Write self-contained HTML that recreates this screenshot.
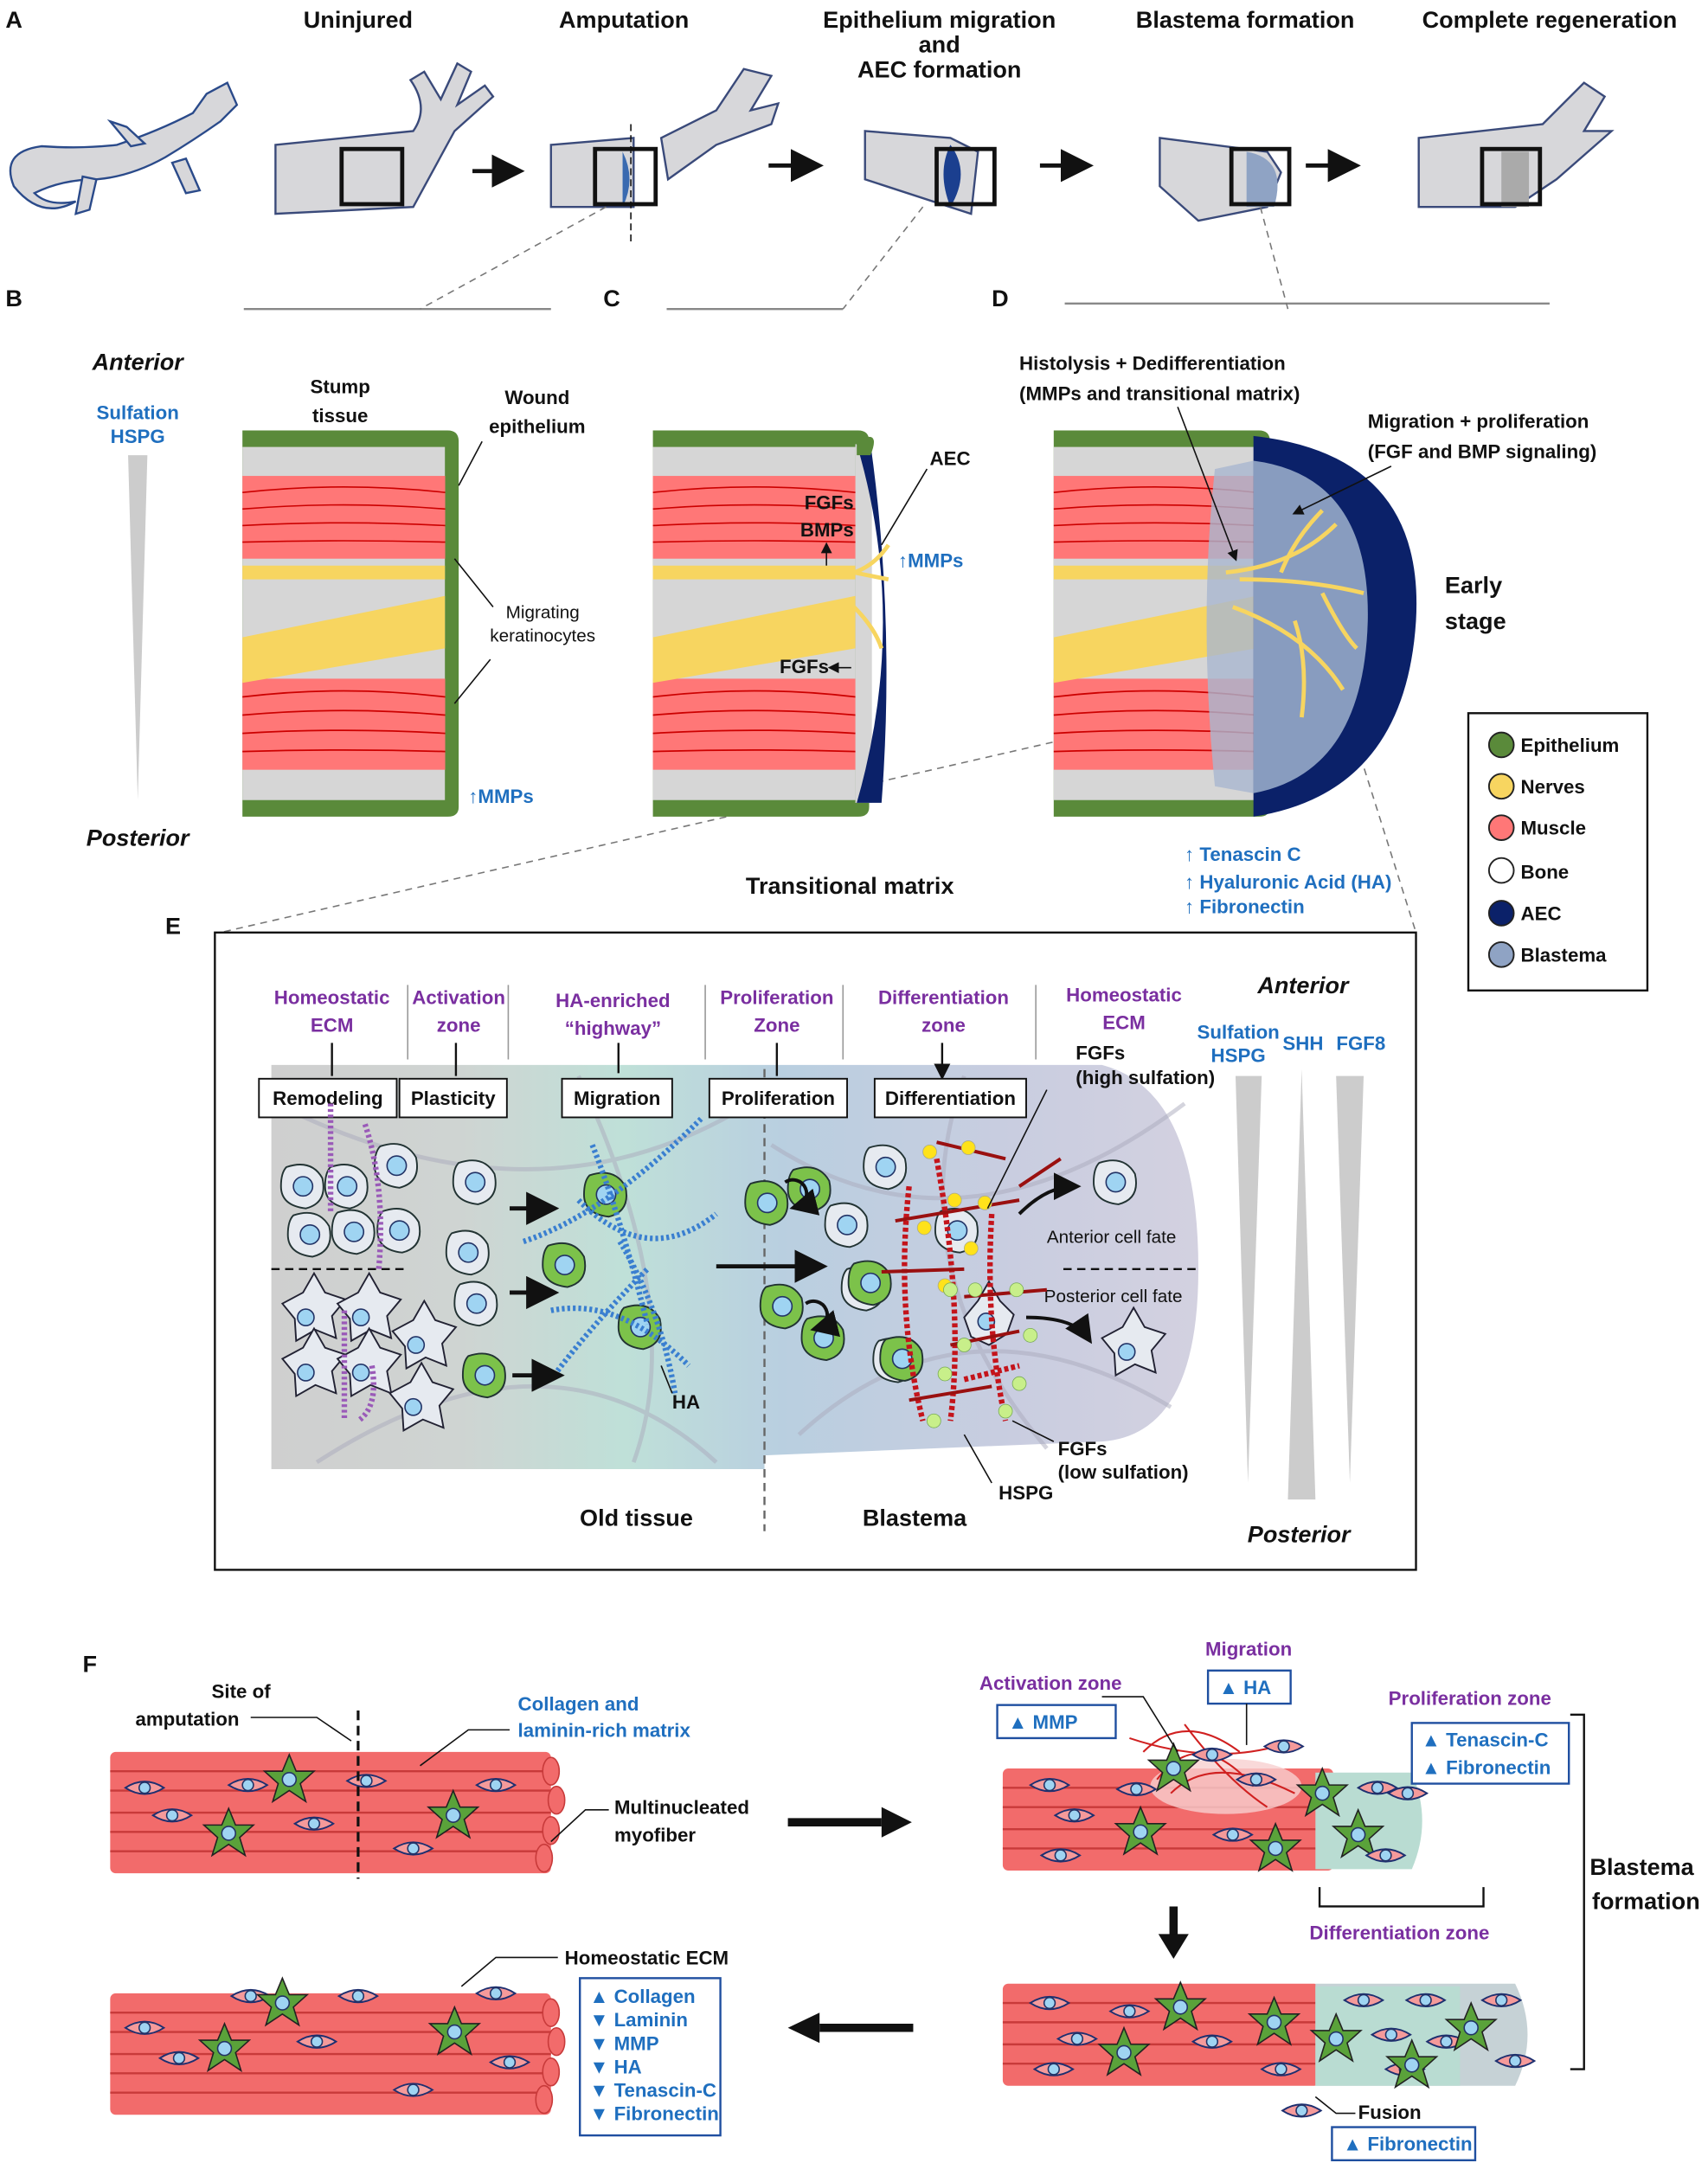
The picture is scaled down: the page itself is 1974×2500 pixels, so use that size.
<!DOCTYPE html>
<html><head><meta charset="utf-8"><style>
html,body{margin:0;padding:0;background:#fff}
svg{display:block}
text{font-family:"Liberation Sans",sans-serif}
.t{font-size:17px;font-weight:bold;fill:#111}
.b{font-size:14px;font-weight:bold;fill:#111}
.bl{font-size:14px;font-weight:bold;fill:#1f6fbf}
.pu{font-size:14px;font-weight:bold;fill:#7a2fa0}
.s{font-size:13px;fill:#111}
</style></head><body>
<svg width="1974" height="2500" viewBox="0 0 1240 1568" preserveAspectRatio="none" xmlns="http://www.w3.org/2000/svg">
<defs>
<marker id="ah" markerWidth="8" markerHeight="8" refX="6" refY="4" orient="auto"><path d="M0,0L8,4L0,8z" fill="#111"/></marker>
<linearGradient id="eg" x1="0" x2="1"><stop offset="0" stop-color="#cfcfcf"/><stop offset="0.2" stop-color="#cfd4d2"/><stop offset="0.38" stop-color="#bfe0d8"/><stop offset="0.55" stop-color="#b9cfe0"/><stop offset="0.8" stop-color="#c9cde0"/><stop offset="1" stop-color="#d3d1e0"/></linearGradient>
<g id="mus"><rect x="0" y="0" width="160" height="60" fill="#f77"/><path d="M0,12Q80,4 160,12M0,24Q80,18 160,24M0,36Q80,32 160,36M0,48Q80,46 160,48" stroke="#c00" fill="none" stroke-width="1"/></g>
<g id="cell"><path d="M-12,-14Q6,-20 14,-6Q18,12 2,16Q-16,14 -16,0Q-16,-10 -12,-14z" fill="#e6eaf0" stroke="#233" stroke-width="1.2"/><circle r="7" fill="#9fd4f2" stroke="#236" stroke-width="1"/></g>
<g id="gcell"><path d="M-12,-14Q6,-20 14,-6Q18,12 2,16Q-16,14 -16,0Q-16,-10 -12,-14z" fill="#7cc24a" stroke="#233" stroke-width="1.2"/><circle r="7" fill="#9fd4f2" stroke="#236" stroke-width="1"/></g>
<g id="star"><path d="M0,-18L5,-6L18,-6L8,3L12,16L0,8L-12,16L-8,3L-18,-6L-5,-6z" fill="#5aa23a" stroke="#222" stroke-width="1"/><circle r="5" fill="#9fd4f2" stroke="#236"/></g>
<g id="eye"><path d="M-14,0Q0,-9 14,0Q0,9 -14,0z" fill="#f59a9a" stroke="#1d2f70" stroke-width="1.2"/><circle r="4" fill="#9fd4f2" stroke="#236"/></g>
</defs>

<!-- Panel A -->
<text x="4" y="20" class="t">A</text>
<text x="260" y="20" class="t" text-anchor="middle">Uninjured</text>
<text x="453" y="20" class="t" text-anchor="middle">Amputation</text>
<text x="682" y="20" class="t" text-anchor="middle">Epithelium migration</text>
<text x="682" y="38" class="t" text-anchor="middle">and</text>
<text x="682" y="56" class="t" text-anchor="middle">AEC formation</text>
<text x="904" y="20" class="t" text-anchor="middle">Blastema formation</text>
<text x="1125" y="20" class="t" text-anchor="middle">Complete regeneration</text>
<g fill="#d7d7da" stroke="#2a4a8a" stroke-width="1.5">
<path d="M10,135Q0,110 30,106Q60,108 85,105Q115,95 140,82L150,68L165,60L172,76L160,88Q140,102 120,114Q95,128 70,130Q45,130 25,140Q35,150 55,146Q30,160 10,135z"/>
<path d="M95,106L80,88L92,92L105,104z"/><path d="M125,118L135,140L145,138L135,115z"/><path d="M60,128L55,155L65,152L70,130z"/>
</g>
<g fill="#d7d7da" stroke="#3a4a7a" stroke-width="1.5">
<path d="M200,105L300,95Q312,78 298,58L308,52L320,72L332,46L342,52L332,76L352,62L358,70L330,95L300,150L200,155z"/>
<path d="M400,105L460,100L460,150L400,150z"/><path d="M480,100L520,80L540,50L560,55L545,80L565,75L560,90L520,105L485,130z"/>
<path d="M628,95L690,100L710,110L705,155L628,130z"/>
<path d="M842,100L920,110L930,125L920,150L870,160L842,135z"/>
<path d="M1030,100L1120,90L1150,60L1165,70L1150,95L1170,95L1130,130L1100,150L1030,150z"/>
</g>
<path d="M452,110Q462,130 452,150" fill="#3a6ab0"/><path d="M690,105Q705,125 690,150Q680,125 690,105z" fill="#1b3f8f"/>
<path d="M905,110Q935,115 925,150L905,150z" fill="#8fa3c4"/><path d="M1090,110L1110,110L1110,150L1090,150z" fill="#aaa"/>
<g fill="none" stroke="#111" stroke-width="3"><rect x="248" y="108" width="44" height="40"/><rect x="432" y="108" width="44" height="40"/><rect x="680" y="108" width="42" height="40"/><rect x="894" y="108" width="42" height="40"/><rect x="1076" y="108" width="42" height="40"/></g>
<path d="M458,90V175" stroke="#111" stroke-dasharray="5,3"/>
<g stroke="#111" stroke-width="3" marker-end="url(#ah)"><path d="M343,124H375"/><path d="M558,120H592"/><path d="M755,120H788"/><path d="M948,120H982"/></g>
<g stroke="#888" stroke-width="1.5"><path d="M177,224H400M484,224H612M773,220H1125"/></g>
<g stroke="#777" stroke-dasharray="5,4" fill="none"><path d="M440,150L305,224M670,150L612,224M915,150L935,224M887,510L160,676M985,540L1028,676"/></g>

<!-- Panel B -->
<text x="4" y="222" class="t">B</text><text x="438" y="222" class="t">C</text><text x="720" y="222" class="t">D</text>
<text x="100" y="268" class="t" font-style="italic" text-anchor="middle">Anterior</text>
<text x="100" y="304" class="bl" text-anchor="middle">Sulfation</text><text x="100" y="321" class="bl" text-anchor="middle">HSPG</text>
<path d="M93,330H107L100,580z" fill="#ccc"/>
<text x="100" y="613" class="t" font-style="italic" text-anchor="middle">Posterior</text>
<text x="247" y="285" class="b" font-size="15" text-anchor="middle">Stump</text><text x="247" y="306" class="b" font-size="15" text-anchor="middle">tissue</text>
<text x="390" y="293" class="b" font-size="15" text-anchor="middle">Wound</text><text x="390" y="314" class="b" font-size="15" text-anchor="middle">epithelium</text>
<text x="394" y="448" class="s" font-size="14" text-anchor="middle">Migrating</text><text x="394" y="465" class="s" font-size="14" text-anchor="middle">keratinocytes</text>
<text x="340" y="582" class="bl">↑MMPs</text>

<g id="stump">
<path d="M176,312H325Q333,312 333,320V585Q333,592 325,592H176z" fill="#5a8a3a"/>
<rect x="176" y="324" width="147" height="256" fill="#d6d6d6"/>
<use href="#mus" transform="translate(176,345) scale(0.92,1)"/>
<use href="#mus" transform="translate(176,492) scale(0.92,1.1)"/>
<path d="M176,410H323V420H176z" fill="#f7d560"/>
<path d="M176,462L323,432V470L176,495z" fill="#f7d560"/>
</g>
<path d="M333,352L350,320M330,405L358,440M330,510L356,478" stroke="#111"/>

<g transform="translate(298,0)"><use href="#stump"/></g>
<rect x="621" y="322" width="12" height="260" fill="#d6d6d6"/>
<path d="M622,322Q660,450 622,582H640Q650,450 632,322z" fill="#0b2169"/>
<path d="M622,320Q640,310 632,330L622,330z" fill="#5a8a3a"/>
<g stroke="#f7d560" stroke-width="3" fill="none"><path d="M620,415Q635,410 645,395M620,415L645,420M620,440Q635,455 640,470"/></g>
<text x="584" y="369" class="b">FGFs</text><text x="581" y="389" class="b">BMPs</text>
<path d="M600,410V395" stroke="#111" marker-end="url(#ah)"/>
<text x="566" y="488" class="b">FGFs</text><path d="M618,484H603" stroke="#111" marker-end="url(#ah)"/>
<text x="675" y="337" class="b" font-size="15">AEC</text><path d="M673,340L640,395" stroke="#111"/>
<text x="652" y="411" class="bl">↑MMPs</text>

<g transform="translate(589,0)"><use href="#stump"/></g>
<path d="M910,316Q1035,330 1028,450Q1020,575 910,592z" fill="#0b2169"/>
<path d="M910,334Q995,345 993,450Q990,560 910,575z" fill="#8fa3c4" opacity="0.95"/>
<path d="M882,340Q870,450 882,570L910,575V334z" fill="#a9b7cf" opacity="0.8"/>
<g stroke="#f7d560" stroke-width="3" fill="none"><path d="M890,415Q940,410 970,380M900,420Q950,420 990,430M895,440Q950,460 975,500M930,415Q940,390 960,370M940,450Q950,480 945,520M960,430Q975,460 985,470"/></g>
<text x="740" y="268" class="b" font-size="15">Histolysis + Dedifferentiation</text>
<text x="740" y="290" class="b" font-size="15">(MMPs and transitional matrix)</text>
<path d="M855,295L897,405" stroke="#111" marker-end="url(#ah)"/>
<text x="993" y="310" class="b" font-size="15">Migration + proliferation</text>
<text x="993" y="332" class="b" font-size="15">(FGF and BMP signaling)</text>
<path d="M1010,338L940,372" stroke="#111" marker-end="url(#ah)"/>
<text x="1049" y="430" class="t">Early</text><text x="1049" y="456" class="t">stage</text>
<text x="860" y="624" class="bl">↑ Tenascin C</text>
<text x="860" y="644" class="bl">↑ Hyaluronic Acid (HA)</text>
<text x="860" y="662" class="bl">↑ Fibronectin</text>
<text x="617" y="648" class="t" font-size="20" text-anchor="middle">Transitional matrix</text>

<!-- Legend -->
<rect x="1066" y="517" width="130" height="201" fill="#fff" stroke="#111" stroke-width="1.5"/>
<g stroke="#222" stroke-width="1.2">
<circle cx="1090" cy="540" r="9" fill="#5a8a3a"/><circle cx="1090" cy="570" r="9" fill="#f7d560"/><circle cx="1090" cy="600" r="9" fill="#f77"/><circle cx="1090" cy="631" r="9" fill="#fff"/><circle cx="1090" cy="662" r="9" fill="#0b2169"/><circle cx="1090" cy="692" r="9" fill="#8fa3c4"/></g>
<g class="b" font-size="15"><text x="1104" y="545" class="b">Epithelium</text><text x="1104" y="575" class="b">Nerves</text><text x="1104" y="605" class="b">Muscle</text><text x="1104" y="637" class="b">Bone</text><text x="1104" y="667" class="b">AEC</text><text x="1104" y="697" class="b">Blastema</text></g>

<!-- Panel E -->
<text x="120" y="677" class="t">E</text>
<rect x="156" y="676" width="872" height="462" fill="#fff" stroke="#111" stroke-width="1.5"/>
<path d="M197,772H800Q870,790 870,920Q870,1040 800,1045L555,1055V1065H197z" fill="url(#eg)"/>
<g stroke="#aab" stroke-width="3" fill="none" opacity="0.5"><path d="M200,800Q400,900 560,790M230,1060Q400,950 520,1060M560,830Q700,920 860,800M580,1040Q700,930 850,1020M420,780Q500,950 460,1060M700,780Q650,920 760,1050"/></g>
<path d="M555,775V1110" stroke="#666" stroke-dasharray="6,4" stroke-width="1.5"/>
<path d="M197,920H295M772,920H868" stroke="#111" stroke-dasharray="6,4" stroke-width="1.5"/>
<g class="pu">
<text x="241" y="728" class="pu" text-anchor="middle">Homeostatic</text><text x="241" y="748" class="pu" text-anchor="middle">ECM</text>
<text x="333" y="728" class="pu" text-anchor="middle">Activation</text><text x="333" y="748" class="pu" text-anchor="middle">zone</text>
<text x="445" y="730" class="pu" text-anchor="middle">HA-enriched</text><text x="445" y="750" class="pu" text-anchor="middle">“highway”</text>
<text x="564" y="728" class="pu" text-anchor="middle">Proliferation</text><text x="564" y="748" class="pu" text-anchor="middle">Zone</text>
<text x="685" y="728" class="pu" text-anchor="middle">Differentiation</text><text x="685" y="748" class="pu" text-anchor="middle">zone</text>
<text x="816" y="726" class="pu" text-anchor="middle">Homeostatic</text><text x="816" y="746" class="pu" text-anchor="middle">ECM</text>
</g>
<g stroke="#999"><path d="M296,714V768M369,714V768M512,714V768M612,714V768M752,714V768"/></g>
<g stroke="#111" stroke-width="1.5" marker-end="url(#ah)"><path d="M241,756V780M331,756V780M449,756V778M564,756V780M684,756V780"/></g>
<g fill="#fff" stroke="#111" stroke-width="1.2"><rect x="188" y="782" width="100" height="28"/><rect x="290" y="782" width="78" height="28"/><rect x="408" y="782" width="80" height="28"/><rect x="515" y="782" width="100" height="28"/><rect x="635" y="782" width="110" height="28"/></g>
<g class="b" font-size="13" text-anchor="middle"><text x="238" y="801" class="b" font-size="13">Remodeling</text><text x="329" y="801" class="b" font-size="13">Plasticity</text><text x="448" y="801" class="b" font-size="13">Migration</text><text x="565" y="801" class="b" font-size="13">Proliferation</text><text x="690" y="801" class="b" font-size="13">Differentiation</text></g>
<text x="781" y="768" class="b" font-size="13">FGFs</text><text x="781" y="786" class="b" font-size="13">(high sulfation)</text>
<text x="946" y="720" class="t" font-style="italic" text-anchor="middle">Anterior</text>
<text x="899" y="753" class="bl" text-anchor="middle">Sulfation</text><text x="899" y="770" class="bl" text-anchor="middle">HSPG</text>
<text x="946" y="761" class="bl" text-anchor="middle">SHH</text><text x="988" y="761" class="bl" text-anchor="middle">FGF8</text>
<g fill="#ccc"><path d="M897,780H916L906,1075z"/><path d="M945,775L955,1087H935z"/><path d="M970,780H990L980,1075z"/></g>
<text x="943" y="1118" class="t" font-style="italic" text-anchor="middle">Posterior</text>
<text x="462" y="1106" class="t" text-anchor="middle">Old tissue</text><text x="664" y="1106" class="t" text-anchor="middle">Blastema</text>
<text x="760" y="901" class="s">Anterior cell fate</text><text x="758" y="944" class="s">Posterior cell fate</text>
<text x="488" y="1021" class="b" font-size="12">HA</text><text x="725" y="1087" class="b" font-size="12">HSPG</text>
<text x="768" y="1055" class="b" font-size="13">FGFs</text><text x="768" y="1072" class="b" font-size="13">(low sulfation)</text>
<g><use href="#cell" x="220" y="860"/><use href="#cell" x="252" y="860"/><use href="#cell" x="288" y="845"/><use href="#cell" x="225" y="895"/><use href="#cell" x="257" y="893"/><use href="#cell" x="290" y="892"/>
<use href="#cell" x="345" y="857"/><use href="#cell" x="340" y="908"/><use href="#cell" x="346" y="945"/>
<use href="#cell" x="615" y="888"/><use href="#cell" x="643" y="846"/><use href="#cell" x="627" y="934"/><use href="#cell" x="650" y="986"/><use href="#cell" x="695" y="892"/><use href="#cell" x="810" y="857"/></g>
<g fill="#e6eaf0" stroke="#223" stroke-width="1.2"><path d="M205,945l15,-8 8,-14 8,14 15,5 -10,12 3,16 -15,-6 -14,8 -1,-16z"/><path d="M245,945l15,-8 8,-14 8,14 15,5 -10,12 3,16 -15,-6 -14,8 -1,-16z"/><path d="M205,985l15,-8 8,-14 8,14 15,5 -10,12 3,16 -15,-6 -14,8 -1,-16z"/><path d="M245,985l15,-8 8,-14 8,14 15,5 -10,12 3,16 -15,-6 -14,8 -1,-16z"/><path d="M285,965l15,-8 8,-14 8,14 15,5 -10,12 3,16 -15,-6 -14,8 -1,-16z"/><path d="M283,1010l15,-8 8,-14 8,14 15,5 -10,12 3,16 -15,-6 -14,8 -1,-16z"/><path d="M800,970l15,-8 8,-14 8,14 15,5 -10,12 3,16 -15,-6 -14,8 -1,-16z"/><path d="M700,955l10,-12 8,-14 8,14 10,10 -5,14 -13,8 -13,-6z"/></g>
<g fill="#9fd4f2" stroke="#236"><circle cx="222" cy="955" r="6"/><circle cx="262" cy="955" r="6"/><circle cx="222" cy="995" r="6"/><circle cx="262" cy="995" r="6"/><circle cx="302" cy="975" r="6"/><circle cx="300" cy="1020" r="6"/><circle cx="818" cy="980" r="6"/><circle cx="716" cy="958" r="6"/></g>
<g><use href="#gcell" x="440" y="866"/><use href="#gcell" x="410" y="917"/><use href="#gcell" x="465" y="962"/><use href="#gcell" x="352" y="997"/><use href="#gcell" x="557" y="872"/><use href="#gcell" x="588" y="862"/><use href="#gcell" x="568" y="947"/><use href="#gcell" x="598" y="970"/><use href="#gcell" x="655" y="985"/><use href="#gcell" x="632" y="930"/></g>
<g stroke="#3a7fd0" stroke-width="4" stroke-dasharray="2,2" fill="none"><path d="M380,900Q440,880 510,810M400,950Q450,940 500,990M420,870Q470,920 520,880M400,1000Q430,960 470,920M450,900Q480,950 490,1010M430,830Q450,880 470,960"/></g>
<g stroke="#9a5ab8" stroke-width="4" stroke-dasharray="2,2" fill="none"><path d="M240,800V880M265,815Q280,860 275,920M250,950V1030M270,990Q275,1020 260,1030"/></g>
<g stroke="#c4141b" stroke-width="4" stroke-dasharray="3,2" fill="none"><path d="M660,860Q650,950 670,1030M680,840Q700,950 690,1030M720,880Q715,960 730,1030M700,1000L740,990"/></g>
<g stroke="#9a1010" stroke-width="2.5" fill="none"><path d="M650,885L740,870M680,828L730,840M640,922L700,920M700,940L760,935M690,975L740,965M660,1015L720,1005M740,860L770,840"/></g>
<g fill="#ffe21a" stroke="#aa8" stroke-width="0.5"><circle cx="675" cy="835" r="5"/><circle cx="703" cy="832" r="5"/><circle cx="693" cy="870" r="5"/><circle cx="715" cy="872" r="5"/><circle cx="671" cy="890" r="5"/><circle cx="686" cy="932" r="5"/><circle cx="705" cy="905" r="5"/></g>
<g fill="#c8ef8a" stroke="#7a5" stroke-width="0.5"><circle cx="690" cy="935" r="5"/><circle cx="708" cy="935" r="5"/><circle cx="738" cy="935" r="5"/><circle cx="700" cy="975" r="5"/><circle cx="748" cy="968" r="5"/><circle cx="686" cy="996" r="5"/><circle cx="740" cy="1003" r="5"/><circle cx="678" cy="1030" r="5"/><circle cx="730" cy="1023" r="5"/></g>
<g stroke="#111" stroke-width="3" marker-end="url(#ah)"><path d="M370,876H400"/><path d="M370,937H400"/><path d="M372,997H404"/><path d="M520,918H595"/></g>
<g stroke="#111" stroke-width="2.5" fill="none" marker-end="url(#ah)"><path d="M740,880Q760,860 780,860"/><path d="M745,955Q780,955 790,970"/><path d="M570,857a10,10 0 1,1 8,18"/><path d="M585,945a10,10 0 1,1 8,18"/></g>
<path d="M480,990L488,1010M700,1040L720,1075M735,1030L765,1045M717,876L760,790" stroke="#111"/>

<!-- Panel F -->
<text x="60" y="1212" class="t">F</text>
<g id="fib">
<rect x="80" y="1270" width="320" height="88" rx="4" fill="#f26b6b"/>
<g stroke="#c83a3a" stroke-width="1.5"><path d="M80,1284H400M80,1298H400M80,1314H400M80,1328H400M80,1342H400"/></g>
<g stroke="#c83a3a" fill="#f26b6b"><ellipse cx="400" cy="1284" rx="6" ry="10"/><ellipse cx="404" cy="1305" rx="6" ry="10"/><ellipse cx="400" cy="1327" rx="6" ry="10"/><ellipse cx="395" cy="1347" rx="6" ry="10"/></g>
</g>
<g><use href="#eye" x="105" y="1296"/><use href="#eye" x="125" y="1316"/><use href="#eye" x="180" y="1294"/><use href="#eye" x="228" y="1322"/><use href="#eye" x="266" y="1291"/><use href="#eye" x="300" y="1340"/><use href="#eye" x="360" y="1294"/><use href="#star" x="210" y="1290"/><use href="#star" x="166" y="1329"/><use href="#star" x="329" y="1316"/></g>
<path d="M260,1240V1362" stroke="#111" stroke-width="2" stroke-dasharray="7,4"/>
<text x="175" y="1231" class="b" text-anchor="middle">Site of</text><text x="136" y="1251" class="b" text-anchor="middle">amputation</text>
<path d="M182,1245H230L255,1262" stroke="#111" fill="none"/>
<text x="376" y="1240" class="bl">Collagen and</text><text x="376" y="1259" class="bl">laminin-rich matrix</text>
<path d="M370,1254H340L305,1280" stroke="#111" fill="none"/>
<text x="446" y="1315" class="b">Multinucleated</text><text x="446" y="1335" class="b">myofiber</text>
<path d="M442,1312L425,1312L400,1335" stroke="#111" fill="none"/>
<path d="M572,1321H640" stroke="#111" stroke-width="6"/><path d="M640,1310L662,1321L640,1332z" fill="#111"/>

<g transform="translate(0,175)"><use href="#fib"/></g>
<g><use href="#eye" x="105" y="1470"/><use href="#eye" x="130" y="1492"/><use href="#eye" x="182" y="1447"/><use href="#eye" x="230" y="1480"/><use href="#eye" x="260" y="1447"/><use href="#eye" x="300" y="1515"/><use href="#eye" x="360" y="1445"/><use href="#eye" x="370" y="1495"/><use href="#star" x="205" y="1452"/><use href="#star" x="163" y="1485"/><use href="#star" x="330" y="1473"/></g>
<text x="410" y="1424" class="b">Homeostatic ECM</text><path d="M405,1419H360L335,1440" stroke="#111" fill="none"/>
<rect x="421" y="1434" width="102" height="114" fill="#fff" stroke="#1f4fa0" stroke-width="1.5"/>
<g class="bl" font-size="13"><text x="428" y="1452" class="bl" font-size="13">▲ Collagen</text><text x="428" y="1469" class="bl" font-size="13">▼ Laminin</text><text x="428" y="1486" class="bl" font-size="13">▼ MMP</text><text x="428" y="1503" class="bl" font-size="13">▼ HA</text><text x="428" y="1520" class="bl" font-size="13">▼ Tenascin-C</text><text x="428" y="1537" class="bl" font-size="13">▼ Fibronectin</text></g>
<path d="M663,1470H595" stroke="#111" stroke-width="6"/><path d="M595,1459L572,1470L595,1481z" fill="#111"/>
<path d="M852,1382V1405" stroke="#111" stroke-width="6"/><path d="M841,1402L852,1420L863,1402z" fill="#111"/>

<rect x="728" y="1282" width="240" height="74" rx="4" fill="#f26b6b"/>
<g stroke="#c83a3a" stroke-width="1.5"><path d="M728,1296H968M728,1310H968M728,1326H968M728,1340H968"/></g>
<path d="M955,1285H1025Q1040,1320 1025,1355H955z" fill="#b9dcd2"/>
<ellipse cx="890" cy="1295" rx="55" ry="20" fill="#f8d0d0" opacity="0.8"/>
<g stroke="#d02020" fill="none" stroke-width="1.3"><path d="M830,1270Q860,1240 900,1270M840,1290Q870,1250 910,1295M820,1260Q880,1280 930,1265M850,1300Q880,1270 940,1300M860,1250Q890,1290 920,1310"/></g>
<g><use href="#eye" x="762" y="1294"/><use href="#eye" x="780" y="1316"/><use href="#eye" x="825" y="1297"/><use href="#eye" x="770" y="1345"/><use href="#eye" x="895" y="1330"/><use href="#star" x="852" y="1282"/><use href="#star" x="828" y="1328"/><use href="#star" x="926" y="1340"/><use href="#star" x="960" y="1300"/><use href="#star" x="986" y="1330"/>
<use href="#eye" x="880" y="1272"/><use href="#eye" x="932" y="1266"/><use href="#eye" x="912" y="1290"/><use href="#eye" x="1000" y="1296"/><use href="#eye" x="1022" y="1300"/><use href="#eye" x="1006" y="1345"/></g>
<text x="711" y="1225" class="pu">Activation zone</text><path d="M800,1230H830L855,1270" stroke="#111" fill="none"/>
<rect x="724" y="1236" width="86" height="24" fill="#fff" stroke="#1f4fa0" stroke-width="1.5"/><text x="732" y="1253" class="bl">▲ MMP</text>
<text x="875" y="1200" class="pu">Migration</text>
<rect x="877" y="1211" width="60" height="24" fill="#fff" stroke="#1f4fa0" stroke-width="1.5"/><text x="885" y="1228" class="bl">▲ HA</text>
<path d="M905,1235V1265" stroke="#111"/>
<text x="1008" y="1236" class="pu">Proliferation zone</text>
<rect x="1025" y="1249" width="114" height="44" fill="#fff" stroke="#1f4fa0" stroke-width="1.5"/>
<text x="1032" y="1266" class="bl" font-size="13">▲ Tenascin-C</text><text x="1032" y="1286" class="bl" font-size="13">▲ Fibronectin</text>
<path d="M1140,1243H1150V1500H1140" stroke="#111" fill="none" stroke-width="1.5"/>
<text x="1192" y="1359" class="t" text-anchor="middle">Blastema</text><text x="1195" y="1384" class="t" text-anchor="middle">formation</text>
<path d="M958,1368V1382H1077V1368" stroke="#111" fill="none" stroke-width="1.5"/>
<text x="1016" y="1406" class="pu" text-anchor="middle">Differentiation zone</text>

<rect x="728" y="1438" width="230" height="74" rx="4" fill="#f26b6b"/>
<g stroke="#c83a3a" stroke-width="1.5"><path d="M728,1452H958M728,1466H958M728,1482H958M728,1496H958"/></g>
<path d="M955,1438H1100Q1118,1475 1100,1512H955z" fill="#c6d2d6"/>
<path d="M955,1440H1060V1512H955z" fill="#b9dcd2"/>
<g><use href="#eye" x="762" y="1452"/><use href="#eye" x="782" y="1478"/><use href="#eye" x="820" y="1458"/><use href="#eye" x="765" y="1500"/><use href="#eye" x="880" y="1480"/><use href="#eye" x="930" y="1500"/><use href="#star" x="857" y="1455"/><use href="#star" x="816" y="1488"/><use href="#star" x="925" y="1466"/>
<use href="#eye" x="990" y="1450"/><use href="#eye" x="1035" y="1450"/><use href="#eye" x="1090" y="1450"/><use href="#eye" x="1010" y="1475"/><use href="#eye" x="1050" y="1480"/><use href="#eye" x="1020" y="1500"/><use href="#eye" x="1100" y="1494"/><use href="#eye" x="945" y="1530"/><use href="#star" x="970" y="1478"/><use href="#star" x="1068" y="1470"/><use href="#star" x="1025" y="1497"/></g>
<text x="986" y="1536" class="b">Fusion</text><path d="M984,1532H970L955,1520" stroke="#111" fill="none"/>
<rect x="967" y="1542" width="104" height="24" fill="#fff" stroke="#1f4fa0" stroke-width="1.5"/><text x="975" y="1559" class="bl">▲ Fibronectin</text>
</svg>
</body></html>
